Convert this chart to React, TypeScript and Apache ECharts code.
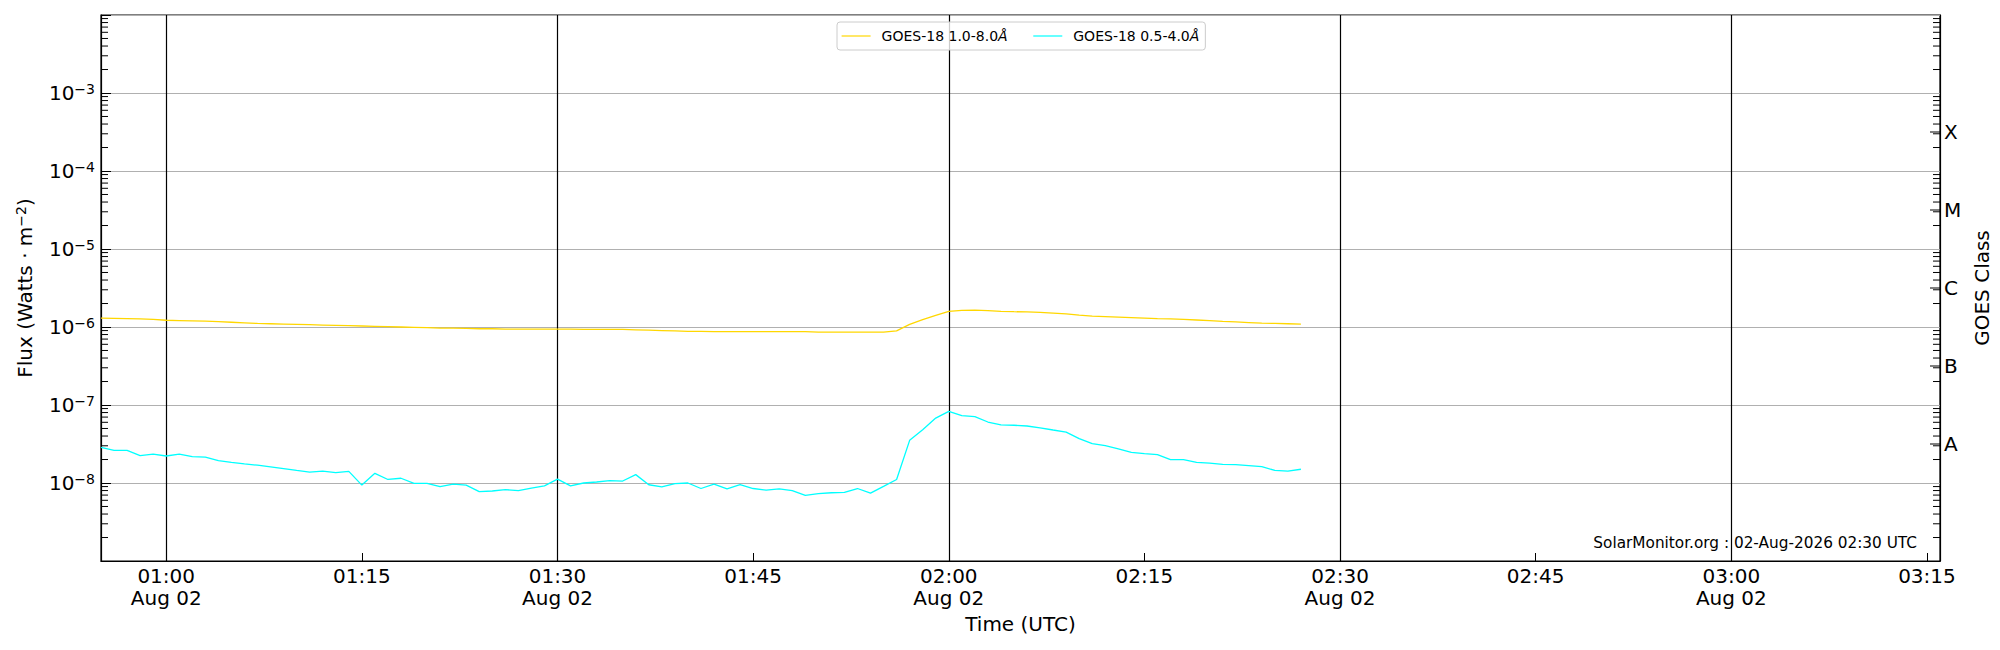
import React, { useEffect, useRef } from 'react';
import * as echarts from 'echarts';

// ---- data ----
const times = [
  '00:55', '00:56', '00:57', '00:58', '00:59', '01:00', '01:01', '01:02', '01:03', '01:04',
  '01:05', '01:06', '01:07', '01:08', '01:09', '01:10', '01:11', '01:12', '01:13', '01:14',
  '01:15', '01:16', '01:17', '01:18', '01:19', '01:20', '01:21', '01:22', '01:23', '01:24',
  '01:25', '01:26', '01:27', '01:28', '01:29', '01:30', '01:31', '01:32', '01:33', '01:34',
  '01:35', '01:36', '01:37', '01:38', '01:39', '01:40', '01:41', '01:42', '01:43', '01:44',
  '01:45', '01:46', '01:47', '01:48', '01:49', '01:50', '01:51', '01:52', '01:53', '01:54',
  '01:55', '01:56', '01:57', '01:58', '01:59', '02:00', '02:01', '02:02', '02:03', '02:04',
  '02:05', '02:06', '02:07', '02:08', '02:09', '02:10', '02:11', '02:12', '02:13', '02:14',
  '02:15', '02:16', '02:17', '02:18', '02:19', '02:20', '02:21', '02:22', '02:23', '02:24',
  '02:25', '02:26', '02:27',
];

// GOES-18 1.0-8.0 Å (W m^-2)
const goesLong = [
  1.30e-6, 1.29e-6, 1.28e-6, 1.27e-6, 1.25e-6, 1.22e-6, 1.21e-6, 1.20e-6, 1.19e-6, 1.17e-6,
  1.15e-6, 1.13e-6, 1.11e-6, 1.10e-6, 1.09e-6, 1.08e-6, 1.07e-6, 1.06e-6, 1.05e-6, 1.04e-6,
  1.03e-6, 1.02e-6, 1.01e-6, 1.00e-6, 0.99e-6, 0.98e-6, 0.97e-6, 0.97e-6, 0.96e-6, 0.95e-6,
  0.95e-6, 0.94e-6, 0.94e-6, 0.94e-6, 0.94e-6, 0.94e-6, 0.94e-6, 0.93e-6, 0.93e-6, 0.93e-6,
  0.93e-6, 0.92e-6, 0.91e-6, 0.90e-6, 0.89e-6, 0.88e-6, 0.88e-6, 0.87e-6, 0.87e-6, 0.87e-6,
  0.87e-6, 0.87e-6, 0.87e-6, 0.87e-6, 0.87e-6, 0.86e-6, 0.86e-6, 0.86e-6, 0.86e-6, 0.86e-6,
  0.86e-6, 0.89e-6, 1.08e-6, 1.24e-6, 1.41e-6, 1.59e-6, 1.63e-6, 1.65e-6, 1.62e-6, 1.59e-6,
  1.57e-6, 1.56e-6, 1.54e-6, 1.51e-6, 1.47e-6, 1.42e-6, 1.38e-6, 1.36e-6, 1.34e-6, 1.32e-6,
  1.30e-6, 1.28e-6, 1.27e-6, 1.25e-6, 1.23e-6, 1.21e-6, 1.18e-6, 1.16e-6, 1.14e-6, 1.12e-6,
  1.11e-6, 1.10e-6, 1.09e-6,
];

// GOES-18 0.5-4.0 Å (W m^-2)
const goesShort = [
  2.86e-8, 2.62e-8, 2.62e-8, 2.24e-8, 2.35e-8, 2.22e-8, 2.35e-8, 2.18e-8, 2.15e-8, 1.93e-8,
  1.84e-8, 1.76e-8, 1.69e-8, 1.61e-8, 1.53e-8, 1.45e-8, 1.38e-8, 1.42e-8, 1.36e-8, 1.41e-8,
  0.94e-8, 1.33e-8, 1.11e-8, 1.15e-8, 0.99e-8, 0.99e-8, 0.90e-8, 0.97e-8, 0.94e-8, 0.775e-8,
  0.79e-8, 0.82e-8, 0.80e-8, 0.86e-8, 0.92e-8, 1.12e-8, 0.92e-8, 1.00e-8, 1.03e-8, 1.07e-8,
  1.06e-8, 1.28e-8, 0.95e-8, 0.89e-8, 0.98e-8, 1.00e-8, 0.85e-8, 0.97e-8, 0.84e-8, 0.95e-8,
  0.85e-8, 0.81e-8, 0.84e-8, 0.80e-8, 0.695e-8, 0.73e-8, 0.75e-8, 0.76e-8, 0.85e-8, 0.74e-8,
  0.905e-8, 1.11e-8, 3.52e-8, 4.83e-8, 6.80e-8, 8.30e-8, 7.30e-8, 7.10e-8, 6.05e-8, 5.55e-8,
  5.50e-8, 5.38e-8, 5.10e-8, 4.78e-8, 4.50e-8, 3.70e-8, 3.19e-8, 3.01e-8, 2.73e-8, 2.47e-8,
  2.38e-8, 2.31e-8, 1.99e-8, 1.99e-8, 1.84e-8, 1.80e-8, 1.73e-8, 1.72e-8, 1.67e-8, 1.62e-8,
  1.45e-8, 1.42e-8, 1.50e-8,
];

const seriesNames = ['GOES-18 1.0-8.0Å', 'GOES-18 0.5-4.0Å'];
const seriesColors = ['#FFD700', '#00FFFF'];
const xStart = '00:55';
const xEnd = '03:16';
const hourLines = ['01:00', '01:30', '02:00', '02:30', '03:00'];
const dateLabel = 'Aug 02';
const yMin = 1e-9;
const yMax = 1e-2;
const decadeExps = [-9, -8, -7, -6, -5, -4, -3];
const minorMultipliers = [2, 3, 4, 5, 6, 7, 8, 9];
const goesClasses = ['A', 'B', 'C', 'M', 'X'];
const goesClassExps = [-7.5, -6.5, -5.5, -4.5, -3.5];
const stampText = 'SolarMonitor.org : 02-Aug-2026 02:30 UTC';
const hiddenExps = [-9, -2];

// ---- helpers ----
const FONT = 'DejaVu Sans';
const toQ = (t: string) => {
  const [h, m] = t.split(':').map(Number);
  return (h * 60 + m) / 15; // quarter-hours
};
const pad = (n: number) => (n < 10 ? '0' + n : '' + n);

export default function App() {
  const ref = useRef<HTMLDivElement | null>(null);

  useEffect(() => {
    document.body.style.margin = '0';
    if (!ref.current) return;
    const chart = echarts.init(ref.current, null, { renderer: 'svg' });

    const xMinQ = toQ(xStart);
    const xMaxQ = toQ(xEnd);

    const tickData: number[][] = [];
    decadeExps.forEach((e) => {
      minorMultipliers.forEach((m) => {
        const v = m * Math.pow(10, e);
        tickData.push([xMinQ, v, 0, 0]);
        tickData.push([xMinQ, v, 1, 0]);
      });
    });
    goesClassExps.forEach((e) => {
      tickData.push([xMinQ, Math.pow(10, e), 1, 1]);
    });

    const option: any = {
      animation: false,
      backgroundColor: '#ffffff',
      textStyle: { fontFamily: FONT },
      grid: {
        left: 101,
        right: 60,
        top: 15,
        bottom: 89,
        show: true,
        borderColor: '#000',
        borderWidth: 1.2,
        backgroundColor: 'transparent',
        containLabel: false,
        outerBoundsMode: 'none',
      },
      legend: {
        data: seriesNames,
        left: 837,
        top: 22,
        orient: 'horizontal',
        padding: [7, 6, 7, 4],
        itemGap: 25,
        itemWidth: 29,
        itemHeight: 14,
        itemStyle: { opacity: 0 },
        lineStyle: { width: 1.2, opacity: 1 },
        borderColor: '#cccccc',
        borderWidth: 1,
        borderRadius: 3,
        backgroundColor: 'rgba(255,255,255,0.8)',
        formatter: (name: string) => `{t|${name.replace('Å', '')}}{i|Å}`,
        textStyle: {
          fontFamily: FONT,
          fontSize: 14,
          color: '#000',
          padding: [0, 0, 0, 6],
          rich: {
            t: { fontFamily: FONT, fontSize: 14, color: '#000' },
            i: { fontFamily: FONT, fontSize: 14, color: '#000', fontStyle: 'italic' },
          },
        },
      },
      xAxis: {
        type: 'value',
        min: xMinQ,
        max: xMaxQ,
        minInterval: 1,
        maxInterval: 1,
        splitNumber: 9,
        axisLine: { show: true, lineStyle: { color: '#000', width: 1.2 } },
        axisTick: { show: true, inside: true, length: 8, lineStyle: { color: '#000', width: 1 } },
        splitLine: { show: false },
        axisLabel: {
          color: '#000',
          fontFamily: FONT,
          fontSize: 20,
          lineHeight: 22,
          margin: 4,
          formatter: (v: number) => {
            const mins = Math.round(v * 15);
            if (Math.abs(v * 15 - mins) > 1e-6 || mins % 15 !== 0) return '';
            const h = Math.floor(mins / 60);
            const m = mins % 60;
            const s = `${pad(h)}:${pad(m)}`;
            return m % 30 === 0 ? `${s}\n${dateLabel}` : s;
          },
        },
        name: 'Time (UTC)',
        nameLocation: 'middle',
        nameGap: 51,
        nameTextStyle: { fontFamily: FONT, fontSize: 20, color: '#000' },
      },
      yAxis: [
        {
          type: 'log',
          logBase: 10,
          min: yMin,
          max: yMax,
          splitNumber: 7,
          position: 'left',
          axisLine: { show: true, lineStyle: { color: '#000', width: 1.2 } },
          axisTick: { show: true, inside: true, length: 10, lineStyle: { color: '#000', width: 1 } },
          splitLine: { show: true, lineStyle: { color: '#b0b0b0', width: 1 } },
          axisLabel: {
            margin: 6,
            formatter: (v: number) => {
              const e = Math.round(Math.log10(v));
              if (hiddenExps.indexOf(e) >= 0) return '';
              return `{b|10}{s|−${Math.abs(e)}}`;
            },
            rich: {
              b: { fontFamily: FONT, fontSize: 20, color: '#000', lineHeight: 22 },
              s: { fontFamily: FONT, fontSize: 14, color: '#000', verticalAlign: 'top', lineHeight: 14 },
            },
          },
          name: '{n|Flux (Watts · m}{s|−2}{n|)}',
          nameLocation: 'middle',
          nameGap: 65,
          nameRotate: 90,
          nameTextStyle: {
            rich: {
              n: { fontFamily: FONT, fontSize: 20, color: '#000', lineHeight: 22 },
              s: { fontFamily: FONT, fontSize: 14, color: '#000', verticalAlign: 'top', lineHeight: 14 },
            },
          },
        },
        {
          type: 'value',
          min: -9,
          max: -2,
          interval: 0.5,
          position: 'right',
          axisLine: { show: true, lineStyle: { color: '#000', width: 1.2 } },
          axisTick: { show: false },
          splitLine: { show: false },
          axisLabel: {
            margin: 4,
            color: '#000',
            fontFamily: FONT,
            fontSize: 20,
            formatter: (v: number) => {
              const idx = goesClassExps.findIndex((e) => Math.abs(e - v) < 1e-6);
              return idx >= 0 ? goesClasses[idx] : '';
            },
          },
          name: 'GOES Class',
          nameLocation: 'middle',
          nameGap: 17,
          nameRotate: 90,
          nameTextStyle: { fontFamily: FONT, fontSize: 20, color: '#000' },
        },
      ],
      graphic: [
        {
          type: 'text',
          right: 83,
          top: 535,
          z: 100,
          style: { text: stampText, fontFamily: FONT, fontSize: 15.3, fill: '#000' },
        },
      ],
      series: [
        {
          name: seriesNames[0],
          type: 'line',
          xAxisIndex: 0,
          yAxisIndex: 0,
          symbol: 'none',
          showSymbol: false,
          color: seriesColors[0],
          lineStyle: { color: seriesColors[0], width: 1.3 },
          data: times.map((t, i) => [toQ(t), goesLong[i]]),
          z: 3,
          markLine: {
            silent: true,
            symbol: ['none', 'none'],
            label: { show: false },
            lineStyle: { color: '#000', width: 1.2, type: 'solid' },
            data: hourLines.map((t) => ({ xAxis: toQ(t) })),
            z: 2,
          },
        },
        {
          name: seriesNames[1],
          type: 'line',
          xAxisIndex: 0,
          yAxisIndex: 0,
          symbol: 'none',
          showSymbol: false,
          color: seriesColors[1],
          lineStyle: { color: seriesColors[1], width: 1.3 },
          data: times.map((t, i) => [toQ(t), goesShort[i]]),
          z: 3,
        },
        {
          name: 'minorTicks',
          type: 'custom',
          coordinateSystem: 'cartesian2d',
          xAxisIndex: 0,
          yAxisIndex: 0,
          silent: true,
          encode: { x: 0, y: 1 },
          data: tickData,
          z: 6,
          renderItem: (params: any, api: any) => {
            const v = api.value(1);
            const side = api.value(2);
            const major = api.value(3);
            const y = api.coord([xMinQ, v])[1];
            const cs = params.coordSys;
            const len = major ? 10 : 7;
            const x0 = side === 0 ? cs.x : cs.x + cs.width;
            const x1 = side === 0 ? x0 + len : x0 - len;
            return {
              type: 'line',
              shape: { x1: x0, y1: y, x2: x1, y2: y },
              style: { stroke: '#000', lineWidth: 1 },
            };
          },
        },
      ],
    };

    chart.setOption(option);
    return () => {
      chart.dispose();
    };
  }, []);

  return <div ref={ref} style={{ width: 2000, height: 650 }} />;
}
